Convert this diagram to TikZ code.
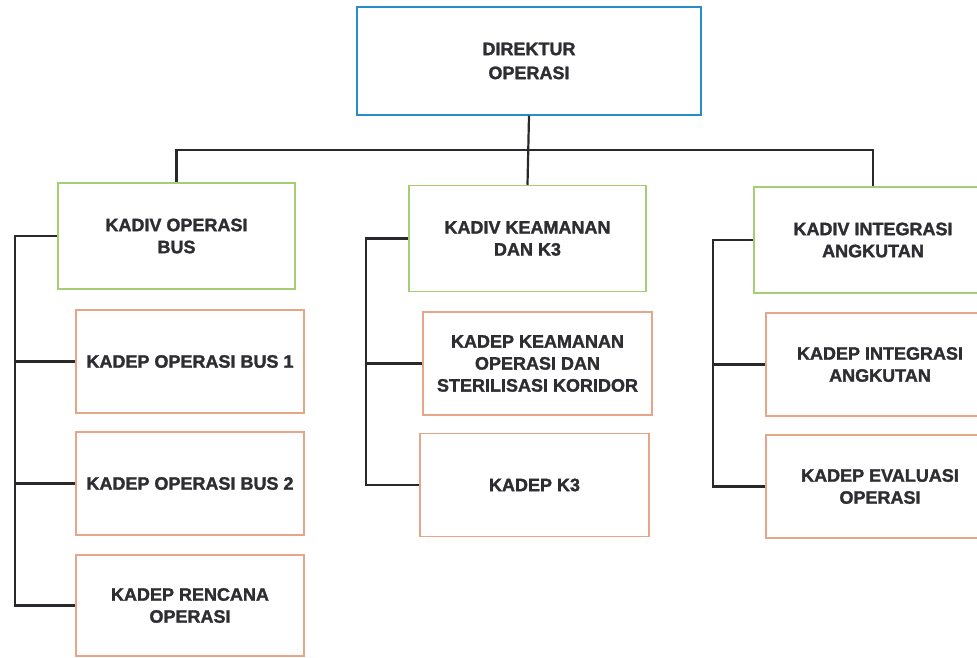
\documentclass[tikz,border=0pt]{standalone}
\usepackage{fontspec}
\setmainfont{Liberation Sans}[FakeBold=1.6]
\definecolor{topblue}{RGB}{40,140,200}
\definecolor{divgreen}{RGB}{165,205,115}
\definecolor{deporange}{RGB}{230,165,135}
\definecolor{linegray}{RGB}{40,40,45}
\definecolor{textgray}{RGB}{45,45,50}
\begin{document}
\begin{tikzpicture}[x=1pt,y=-1pt,
  box/.style={draw,line width=1.5pt,align=center,inner sep=0pt,
    font=\fontsize{18}{22}\selectfont\bfseries,text=textgray},
  topbox/.style={box,draw=topblue,minimum width=344pt,minimum height=108pt},
  divbox/.style={box,draw=divgreen,minimum width=237pt,minimum height=106pt},
  depbox/.style={box,draw=deporange,minimum width=228pt,minimum height=103pt},
  conn/.style={draw=linegray,line width=2.2pt}]
\clip (0,0) rectangle (977,657);
\fill[white] (0,0) rectangle (977,657);
\node[topbox,font=\fontsize{18}{24}\selectfont\bfseries] (top) at (529,61) {DIREKTUR\\OPERASI};
\node[divbox] (g1) at (176.5,236) {KADIV OPERASI\\BUS};
\node[divbox] (g2) at (527.5,238.5) {KADIV KEAMANAN\\DAN K3};
\node[divbox,minimum width=238pt] (g3) at (873,240) {KADIV INTEGRASI\\ANGKUTAN};
\node[depbox] (l1) at (190,361.5) {KADEP OPERASI BUS 1};
\node[depbox] (l2) at (190,483.5) {KADEP OPERASI BUS 2};
\node[depbox,minimum height=101pt] (l3) at (190,605.5) {KADEP RENCANA\\OPERASI};
\node[depbox,minimum width=229pt] (m1) at (537.5,363.5) {KADEP KEAMANAN\\OPERASI DAN\\STERILISASI KORIDOR};
\node[depbox,minimum width=229pt] (m2) at (534.5,485) {KADEP K3};
\node[depbox] (r1) at (880,364.5) {KADEP INTEGRASI\\ANGKUTAN};
\node[depbox] (r2) at (880,486.5) {KADEP EVALUASI\\OPERASI};
\coordinate (hbar) at (0,150);
\coordinate (lrail) at (15,0);
\coordinate (mrail) at (366,0);
\coordinate (rrail) at (713,0);
% top level
\draw[conn] (top.south) -- (g2.north);
\draw[conn] (g1.north) -- (g1.north |- hbar) -- (g3.north |- hbar) -- (g3.north);
% left branch
\draw[conn] (g1.west) -- (g1.west -| lrail) -- (lrail |- l3.west) -- (l3.west);
\draw[conn] (l1.west) -- (l1.west -| lrail);
\draw[conn] (l2.west) -- (l2.west -| lrail);
% middle branch
\draw[conn] (g2.west) -- (g2.west -| mrail) -- (mrail |- m2.west) -- (m2.west);
\draw[conn] (m1.west) -- (m1.west -| mrail);
% right branch
\draw[conn] (g3.west) -- (g3.west -| rrail) -- (rrail |- r2.west) -- (r2.west);
\draw[conn] (r1.west) -- (r1.west -| rrail);
\end{tikzpicture}
\end{document}
